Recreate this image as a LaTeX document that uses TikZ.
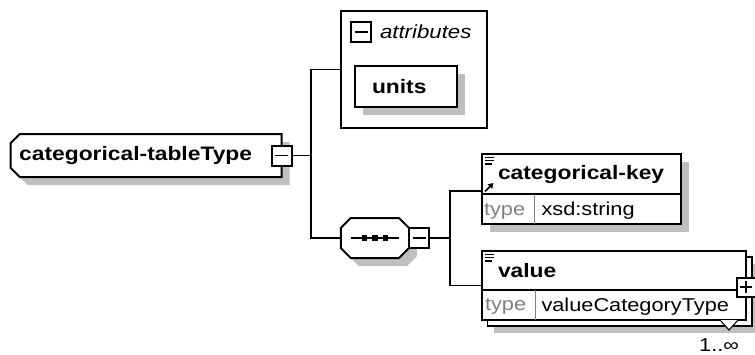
\documentclass[tikz,border=0pt]{standalone}
\usepackage{fontspec}
\setmainfont{Liberation Sans}
\newfontfamily\xsfont[FakeStretch=1.17]{Liberation Sans}
\usetikzlibrary{positioning,shadows,arrows.meta,backgrounds}

\newcommand{\xsname}{\xsfont\bfseries\fontsize{19.5}{22}\selectfont}
\newcommand{\xstext}{\xsfont\fontsize{18.6}{21}\selectfont}
\newcommand{\xsattr}{\xsfont\itshape\fontsize{19}{21}\selectfont}

\begin{document}
\begin{tikzpicture}
[x=1pt,y=-1pt,
 every node/.style={inner sep=0pt,outer sep=0pt},
 box/.style={draw=black,line width=2pt,fill=white},
 castshadow/.style={drop shadow={shadow xshift=8pt,shadow yshift=-8pt,fill=black!25,opacity=1,draw=none}},
 pm/.style={box,rectangle,minimum size=20pt},
 minus/.style={pm,path picture={\draw[line width=1.5pt]
   ([xshift=-6.5pt]path picture bounding box.center) -- ([xshift=6.5pt]path picture bounding box.center);}},
 plus/.style={pm,minimum size=19pt,path picture={\draw[line width=1.5pt]
   ([xshift=-6pt]path picture bounding box.center) -- ([xshift=6pt]path picture bounding box.center)
   ([yshift=-6pt]path picture bounding box.center) -- ([yshift=6pt]path picture bounding box.center);}},
 elem/.style={box,rectangle,anchor=north west},
 lbl/.style={font=\xsname,anchor=west},
 typ/.style={font=\xstext,text=black!50,anchor=west},
 tv/.style={font=\xstext,anchor=west},
 wire/.style={line width=1.9pt},
 split/.style={line width=1.1pt},
 line width=1.9pt]
\useasboundingbox (0,0) rectangle (755,354);

% complex type
\node[minimum width=271pt,minimum height=43pt,text width=254pt,align=left,font=\xsname]
      (root) at (146.2,155.5) {categorical-tableType};
\node[minus] (rootpm) at (root.east) {};

% attributes
\node[box,minimum width=146pt,minimum height=117pt] (attr) at (414,69.5) {};
\node[minus,anchor=north west] (attrpm) at ([shift={(10pt,-11pt)}]attr.north west) {};
\node[font=\xsattr,anchor=west] (attrlabel) [right=9pt of attrpm] {attributes};
\node[box,castshadow,minimum width=102pt,minimum height=41pt,text width=68pt,align=left,font=\xsname]
      (units) at (406,86.5) {units};

% sequence
\node[minimum width=68.3pt,minimum height=40pt] (seq) at (374.9,238) {};
\draw[line width=1.4pt] ([xshift=-24.3pt]seq.center) -- ([xshift=24.3pt]seq.center);
\foreach \dx in {-10.5,0,10.5}
  \fill ([shift={(\dx pt,0pt)}]seq.center) +(-2.8,-2.8) rectangle +(2.8,2.8);
\node[minus,anchor=west] (seqpm) at (seq.east) {};

% chamfered outlines
\begin{scope}[on background layer]
\draw[box,castshadow] ([xshift=9pt]root.north west) -- (root.north east) -- (root.south east)
  -- ([xshift=9pt]root.south west) -- ([yshift=9pt]root.south west) -- ([yshift=-9pt]root.north west) -- cycle;
\draw[box,castshadow] ([xshift=10pt]seq.north west) -- ([xshift=-10pt]seq.north east)
  -- ([yshift=-10pt]seq.north east) -- ([yshift=10pt]seq.south east) -- ([xshift=-10pt]seq.south east)
  -- ([xshift=10pt]seq.south west) -- ([yshift=10pt]seq.south west) -- ([yshift=-10pt]seq.north west) -- cycle;
\end{scope}

% categorical-key
\node[elem,castshadow,minimum width=199.5pt,minimum height=70pt] (key) at (481.5,154) {};
\node[lbl] (keyname) at ([shift={(16.5pt,-20pt)}]key.north west) {categorical-key};
\draw[split] ([yshift=-40pt]key.north west) -- ([yshift=-40pt]key.north east);
\draw[split,draw=black!50] ([shift={(53pt,-40pt)}]key.north west) -- ([xshift=53pt]key.south west);
\node[typ] (keytype) at ([shift={(2.5pt,-57pt)}]key.north west) {type};
\node[tv] (keyval) at ([shift={(60pt,-57pt)}]key.north west) {xsd:string};
\foreach \dy/\len in {3.5/9,6.8/9,10.1/7}
  \draw[line width=1.3pt] ([shift={(3pt,-\dy pt)}]key.north west) -- ++(\len,0);
\draw[line width=1.6pt,-{Triangle[length=5pt,width=6pt]}] ([shift={(3.5pt,-37.5pt)}]key.north west) -- ++(8.5,-8.5);

% value
\node[elem,drop shadow={shadow xshift=12pt,shadow yshift=-13pt,fill=black!25,opacity=1,draw=none},
      copy shadow={shadow xshift=6pt,shadow yshift=-6pt,draw=black,fill=white,line width=1.5pt},
      minimum width=264.5pt,minimum height=69pt] (val) at (481.5,251) {};
\node[lbl] (valname) at ([shift={(16.5pt,-19.7pt)}]val.north west) {value};
\draw[split] ([yshift=-39pt]val.north west) -- ([yshift=-39pt]val.north east);
\draw[split,draw=black!50] ([shift={(54pt,-39pt)}]val.north west) -- ([xshift=54pt]val.south west);
\node[typ] (valtype) at ([shift={(3.5pt,-55.7pt)}]val.north west) {type};
\node[tv] (valval) at ([shift={(60pt,-55.7pt)}]val.north west) {valueCategoryType};
\foreach \dy/\len in {3.5/9,6.8/9,10.1/7}
  \draw[line width=1.3pt] ([shift={(3pt,-\dy pt)}]val.north west) -- ++(\len,0);
\node[plus] (valpm) at ([yshift=-1.5pt]val.east) {};
\draw[line width=1.1pt,fill=white] ([xshift=-26pt]val.south east) -- ++(9,10) -- ++(9,-10);
\node[font=\xstext] (valmult) at ([shift={(-27pt,-25pt)}]val.south east) {1..∞};

% connectors
\coordinate (rootfork) at ([xshift=19.5pt]rootpm.east);
\draw[wire] (rootpm) -- (rootfork);
\draw[wire] (rootfork) |- (attr.west);
\draw[wire] (rootfork) |- (seq.west);
\coordinate (seqfork) at ([xshift=21pt]seqpm.east);
\draw[wire] (seqpm) -- (seqfork);
\draw[wire] (seqfork) |- ([yshift=-2pt]key.west);
\draw[wire] (seqfork) |- (val.west);
\end{tikzpicture}
\end{document}
